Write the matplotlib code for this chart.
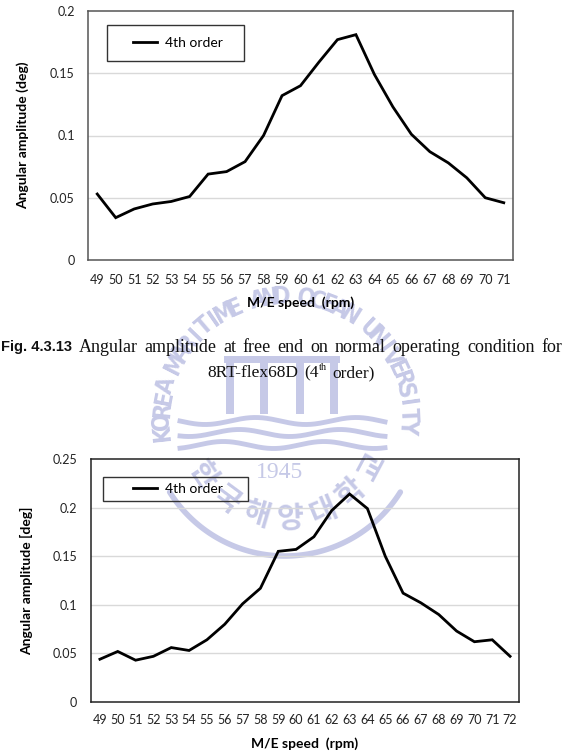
import numpy as np
import matplotlib
matplotlib.use("Agg")
import matplotlib.pyplot as plt
from matplotlib.legend_handler import HandlerLine2D

# ---------------- data ----------------
speeds1 = [49, 50, 51, 52, 53, 54, 55, 56, 57, 58, 59, 60, 61, 62, 63, 64, 65, 66, 67, 68, 69, 70, 71]
amp1 = [0.053, 0.034, 0.041, 0.045, 0.047, 0.051, 0.069, 0.071, 0.079, 0.100, 0.132, 0.140,
        0.159, 0.177, 0.181, 0.149, 0.123, 0.101, 0.087, 0.078, 0.066, 0.050, 0.046]
yticks1 = [0, 0.05, 0.1, 0.15, 0.2]
ylabels1 = ["0", "0.05", "0.1", "0.15", "0.2"]

speeds2 = [49, 50, 51, 52, 53, 54, 55, 56, 57, 58, 59, 60, 61, 62, 63, 64, 65, 66, 67, 68, 69, 70, 71, 72]
amp2 = [0.044, 0.052, 0.043, 0.047, 0.056, 0.053, 0.064, 0.080, 0.101, 0.117, 0.155, 0.157,
        0.170, 0.197, 0.214, 0.199, 0.150, 0.112, 0.102, 0.090, 0.073, 0.062, 0.064, 0.047]
yticks2 = [0, 0.05, 0.1, 0.15, 0.2, 0.25]
ylabels2 = ["0", "0.05", "0.1", "0.15", "0.2", "0.25"]

series_name = "4th order"
xlabel = "M/E speed  (rpm)"
ylabel1 = "Angular amplitude (deg)"
ylabel2 = "Angular amplitude [deg]"
caption_fig = "Fig. 4.3.13"
caption_words = ["Angular", "amplitude", "at", "free", "end", "on", "normal", "operating", "condition", "for"]
caption2_parts = ["8RT-flex68D", "(4", "th", "order)"]

W, H = 564, 755
fig = plt.figure(figsize=(W / 100, H / 100), dpi=100)
fig.patch.set_facecolor("white")
renderer = fig.canvas.get_renderer()

# ---------------- watermark (background) ----------------
wm = fig.add_axes([0, 0, 1, 1], zorder=-5)
wm.set_xlim(0, W)
wm.set_ylim(H, 0)
wm.axis("off")
wmc = "#c6c9e7"
cx, cy = 285, 420

def arc_text(text, r, th0, th1, bottom=False, **kw):
    n = len(text)
    ths = np.linspace(th0, th1, n)
    for ch, th in zip(text, ths):
        t = np.radians(th)
        x = cx + r * np.sin(t)
        y = cy - r * np.cos(t)
        rot = (180 - th) if bottom else -th
        wm.text(x, y, ch, rotation=rot, ha="center", va="center",
                rotation_mode="anchor", color=wmc, **kw)

arc_text("KOREA MARITIME AND OCEAN UNIVERSITY", 123, -96, 93,
         fontsize=17, fontweight="bold", family="DejaVu Sans", fontstretch="condensed")
arc_text("한국해양대학교", 98, 236, 118, bottom=True,
         fontsize=21, family="Noto Sans CJK KR", fontweight="bold")
wm.text(280, 473, "1945", ha="center", va="center", color=wmc, fontsize=17, family="Liberation Serif")
tt = np.radians(np.linspace(122, 238, 100))
wm.plot(cx + 136 * np.sin(tt), cy - 136 * np.cos(tt), color=wmc, lw=4, solid_capstyle="round")
for px in [230, 264, 300, 334]:
    wm.add_patch(plt.Rectangle((px - 4, 362), 8, 52, color=wmc, lw=0))
wm.add_patch(plt.Rectangle((224, 356), 116, 7, color=wmc, lw=0))
xs = np.linspace(180, 385, 200)
for k, yy in enumerate([421, 433, 445]):
    wm.plot(xs, yy + 3.5 * np.sin((xs - 180) / 16 + k), color=wmc, lw=3.5)

# ---------------- charts ----------------
tick_font = dict(family="Lato", size=9)
lab_font = dict(family="Lato", weight="bold", size=10)


def make_chart(rect, speeds, amp, yticks, ylabels, ylab, edgec, leg_anchor, leg_bp, leg_xpad, leg_hl, ylabel_x, ytick_pad, xtick_pad):
    ax = fig.add_axes(rect)
    ax.set_facecolor("none")
    idx = np.arange(len(speeds))
    line, = ax.plot(idx, amp, color="black", lw=2.0, label=series_name, solid_joinstyle="miter")
    ax.set_xlim(-0.5, len(speeds) - 0.5)
    ax.set_ylim(yticks[0], yticks[-1])
    ax.set_xticks(idx)
    ax.set_xticklabels([str(s) for s in speeds], fontdict=tick_font)
    ax.set_yticks(yticks)
    ax.set_yticklabels(ylabels, fontdict=tick_font)
    ax.tick_params(axis="both", length=0, colors="#222222")
    ax.tick_params(axis="y", pad=ytick_pad)
    ax.tick_params(axis="x", pad=xtick_pad)
    for yv in yticks[1:-1]:
        ax.axhline(yv, color="#d9d9d9", lw=1.0, zorder=0)
    for sp in ax.spines.values():
        sp.set_color(edgec)
        sp.set_linewidth(1.1)
    ax.set_xlabel(xlabel, fontdict=lab_font)
    ax.xaxis.set_label_coords(0.5, -0.145)
    ax.set_ylabel(ylab, fontdict=lab_font)
    ax.yaxis.set_label_coords(ylabel_x, 0.5)
    leg = ax.legend(handles=[line], loc="upper left", bbox_to_anchor=leg_anchor, mode="expand",
                    borderaxespad=0, borderpad=leg_bp, handlelength=leg_hl, handletextpad=0.6,
                    frameon=True, fancybox=False, edgecolor="#333333", framealpha=1,
                    prop=dict(family="Lato", size=10),
                    handler_map={line: HandlerLine2D(xpad=leg_xpad)})
    leg.get_frame().set_linewidth(1.0)
    leg.get_frame().set_facecolor("none")
    return ax

make_chart([88 / W, 1 - 260 / H, 425 / W, 249 / H], speeds1, amp1, yticks1, ylabels1, ylabel1,
           "#555555", (0.045, 0.944, 0.322, 0.0), 0.85, 1.0, 2.75, -0.138, 9.5, 10.0)
make_chart([91 / W, 1 - 702 / H, 428 / W, 243 / H], speeds2, amp2, yticks2, ylabels2, ylabel2,
           "#222222", (0.028, 0.926, 0.339, 0.0), 0.42, 1.75, 3.45, -0.135, 10.0, 8.5)

# ---------------- caption (justified line 1, centred line 2) ----------------
def text_width(t):
    return t.get_window_extent(renderer=renderer).width

cap_y = 1 - 347 / H
serif = dict(family="Liberation Serif", color="#111111")
items = [fig.text(0, cap_y, caption_fig, ha="left", va="center", fontsize=10.5,
                  family="Liberation Sans", fontweight="bold", color="#111111")]
for w_ in caption_words:
    items.append(fig.text(0, cap_y, w_, ha="left", va="center", fontsize=13, **serif))
widths = [text_width(t) for t in items]
x_left, x_right = 1.0, 562.0
gap = (x_right - x_left - sum(widths)) / (len(items) - 1)
xpos = x_left
for t, wdt in zip(items, widths):
    t.set_x(xpos / W)
    xpos += wdt + gap

cap2_y = 1 - 373 / H
sizes2 = [12.5, 12.5, 7.5, 12.5]
dy2 = [0, 0, 6, 0]
gaps2 = [6, 0, 6, 0]
parts = [fig.text(0, cap2_y + d_ / H, t_, ha="left", va="center", fontsize=s_, **serif)
         for t_, s_, d_ in zip(caption2_parts, sizes2, dy2)]
w2 = [text_width(t) for t in parts]
total2 = sum(w2) + sum(gaps2[:-1])
xpos = 291 - total2 / 2
for t, wdt, g in zip(parts, w2, gaps2):
    t.set_x(xpos / W)
    xpos += wdt + g

fig.savefig("out.png", dpi=100, facecolor="white")
